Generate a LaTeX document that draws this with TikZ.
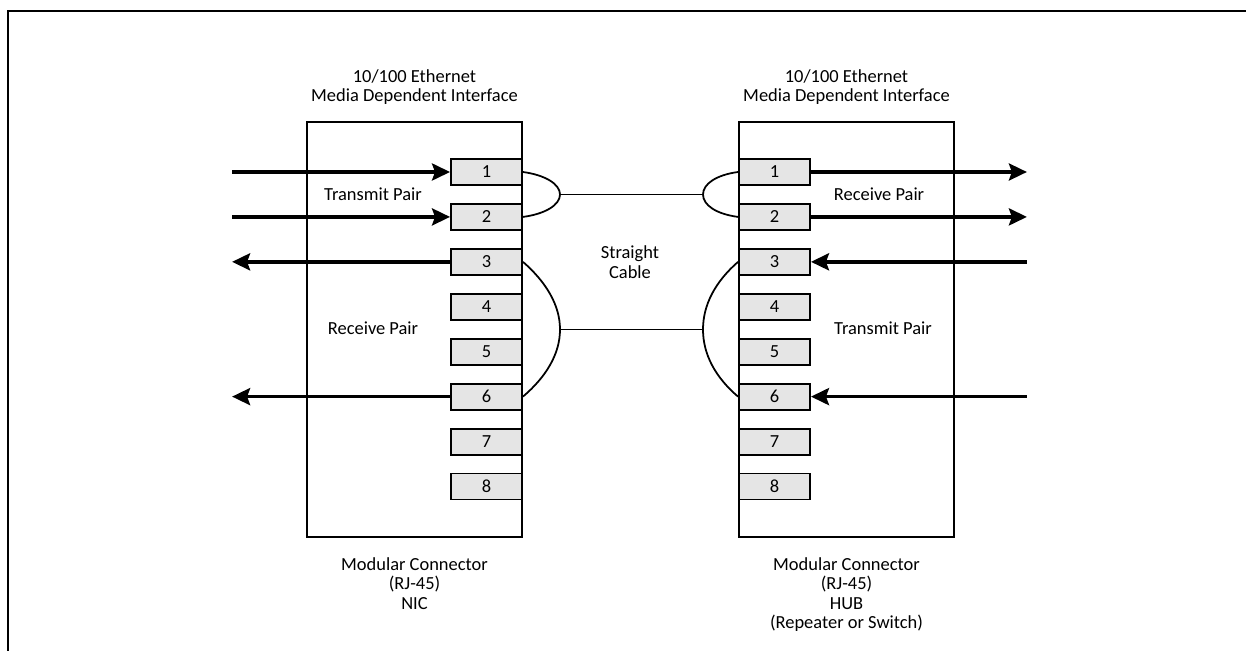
\documentclass[tikz,border=0pt]{standalone}
\usepackage{fontspec}
\setmainfont{Carlito}
\usetikzlibrary{arrows.meta, positioning, calc}

\begin{document}
\begin{tikzpicture}[
    x=0.02cm, y=-0.02cm,
    node distance=0.34cm,
    connbox/.style={rectangle, draw, line width=1.1pt, minimum width=4.3cm, minimum height=8.3cm, inner sep=0pt},
    pinbox/.style={rectangle, draw, line width=1.1pt, fill=black!10, minimum width=1.42cm, minimum height=0.52cm, inner sep=0pt, font=\fontsize{10.5}{11}\selectfont},
    label/.style={align=center, inner sep=0pt, font=\fontsize{10.5}{11.1}\selectfont},
    signal/.style={line width=2pt, -{Stealth[length=0.36cm, width=0.34cm, inset=0.06cm]}},
    wire/.style={line width=1pt}
]
\useasboundingbox (0,0) rectangle (1246,651);

% ---------- frame ----------
\draw[line width=1.3pt] (1246,11) -- (8,11) -- (8,651);

% ---------- connectors ----------
\node (lbox) [connbox] at (414.5,329.5) {};
\node (rbox) [connbox] at (846.5,329.5) {};

% pins
\node (L1) [pinbox] at (486.5,172) {1};
\node (R1) [pinbox] at (774.5,172) {1};
\foreach \i [remember=\i as \j (initially 1)] in {2,...,8} {
    \node (L\i) [pinbox, below=of L\j] {\i};
    \node (R\i) [pinbox, below=of R\j] {\i};
}

% ---------- texts ----------
\node (ltop) [label] at (414.5,87) {10/100 Ethernet\\Media Dependent Interface};
\node (rtop) [label] at (846.5,87) {10/100 Ethernet\\Media Dependent Interface};
\node (lbot) [label, anchor=north] at (414.5,557) {Modular Connector\\(RJ-45)\\NIC};
\node (rbot) [label, anchor=north] at (846.5,557) {Modular Connector\\(RJ-45)\\HUB\\(Repeater or Switch)};

\node (ltx) [label] at (373,194) {Transmit Pair};
\node (lrx) [label] at (373,328) {Receive Pair};
\node (rrx) [label] at (879,194) {Receive Pair};
\node (rtx) [label] at (883,328) {Transmit Pair};
\node (cable) [label] at (630,262) {Straight\\Cable};

% ---------- signal arrows ----------
\foreach \i in {1,2,3,6} {
    \coordinate (lw\i) at ([xshift=-4.36cm]L\i.west);
    \coordinate (re\i) at ([xshift=4.32cm]R\i.east);
}
\draw [signal] (lw1) -- (L1.west);
\draw [signal] (lw2) -- (L2.west);
\draw [signal] (L3.west) -- (lw3);
\draw [signal] (L6.west) -- (lw6);
\draw [signal] (R1.east) -- (re1);
\draw [signal] (R2.east) -- (re2);
\draw [signal] (re3) -- (R3.east);
\draw [signal] (re6) -- (R6.east);

% ---------- cable ----------
\coordinate (tl) at (560,194.5);
\coordinate (tr) at (703,194.5);
\coordinate (bl) at (560,329.5);
\coordinate (br) at (703,329.5);

\draw [wire] (L1.east) .. controls (545,175) and (560,184) .. (tl)
             .. controls (560,205) and (545,214) .. (L2.east);
\draw [wire] (R1.west) .. controls (716,175) and (703,184) .. (tr)
             .. controls (703,205) and (716,214) .. (R2.west);
\draw [wire] (L3.east) .. controls (546,282) and (560,305) .. (bl)
             .. controls (560,354) and (546,377) .. (L6.east);
\draw [wire] (R3.west) .. controls (715,282) and (703,305) .. (br)
             .. controls (703,354) and (715,377) .. (R6.west);
\draw [wire] (tl) -- (tr);
\draw [wire] (bl) -- (br);

\end{tikzpicture}
\end{document}
